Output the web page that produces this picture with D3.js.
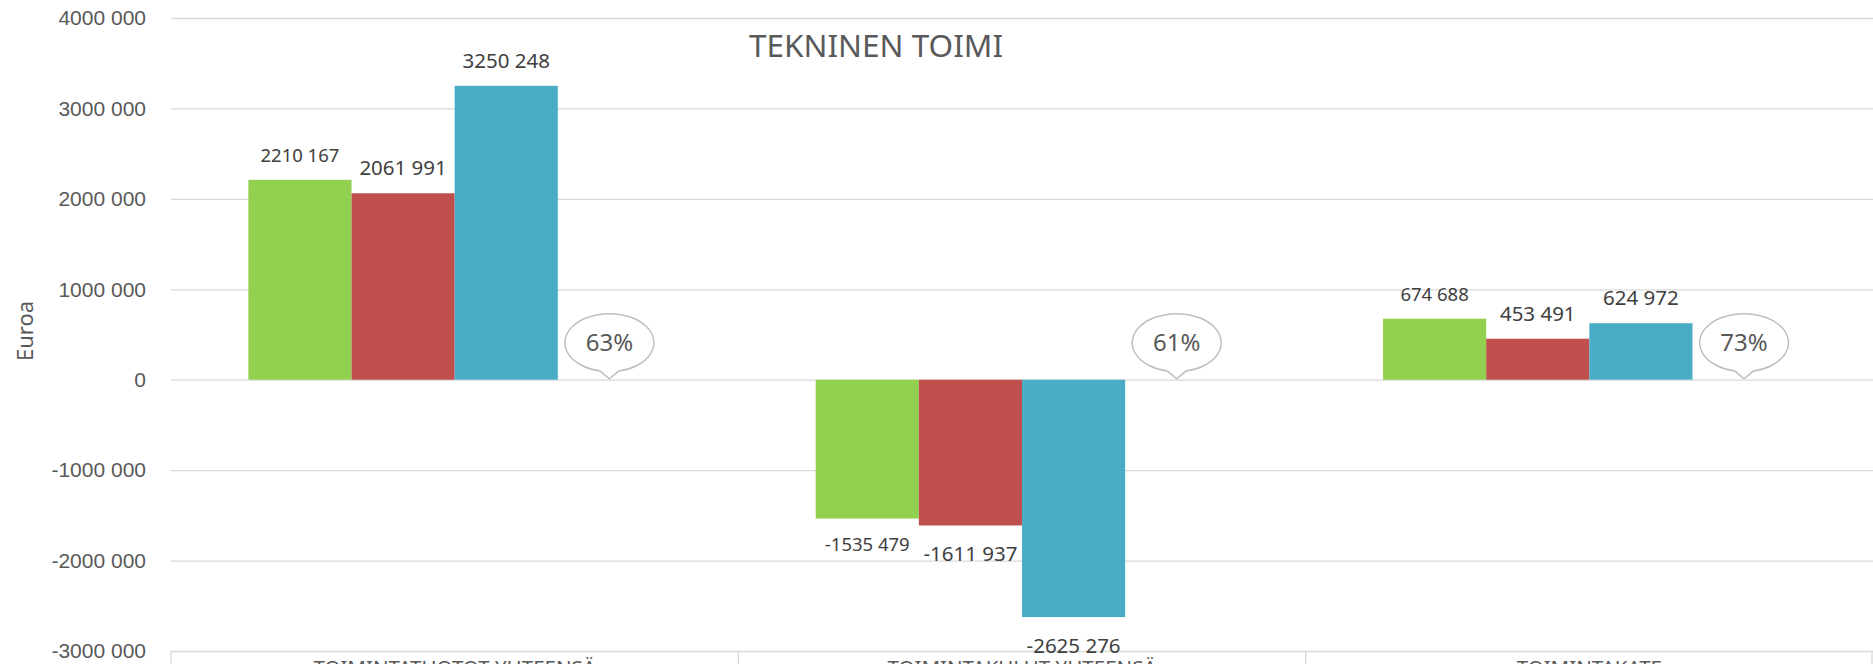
<!DOCTYPE html>
<html>
<head>
<meta charset="utf-8">
<script src="https://cdn.jsdelivr.net/npm/d3@7"></script>
<style>
  body { margin: 0; background: #fff; }
  svg { display: block; font-family: "Noto Sans", sans-serif; }
</style>
</head>
<body>
<div id="chart"></div>
<script>
var width = 1873;
var height = 664;

// chart data
var categories = ['TOIMINTATUOTOT YHTEENSÄ', 'TOIMINTAKULUT YHTEENSÄ', 'TOIMINTAKATE'];
var seriesKeys = ['sarja1', 'sarja2', 'sarja3', 'toteutuma'];
var sarja1 = [2210167, -1535479, 674688];
var sarja2 = [2061991, -1611937, 453491];
var sarja3 = [3250248, -2625276, 624972];
var percentLabels = ['63%', '61%', '73%'];
var yTicks = [-3000000, -2000000, -1000000, 0, 1000000, 2000000, 3000000, 4000000];

var colors = { sarja1: '#92D050', sarja2: '#C0504D', sarja3: '#4BACC6' };
var labelSize = { sarja1: 18.5, sarja2: 20.5, sarja3: 20.5 };

var plotLeft = 171, plotRight = 1873, plotTop = 18, plotBottom = 651;

// excel style: "4000 000", plain hyphen for minus
var fi = d3.formatLocale({ decimal: ',', thousands: ' ', grouping: [3, 99], currency: ['', ''], minus: '-' });
var fmt = fi.format(',d');

var svg = d3.select('#chart').append('svg')
    .attr('width', width)
    .attr('height', height);

var y = d3.scaleLinear()
    .domain([-3000000, 4000000])
    .range([plotBottom, plotTop]);

var x0 = d3.scaleBand()
    .domain(categories)
    .range([plotLeft, plotRight]);

// gap width 150% -> 0.75 bar on each side
var x1 = d3.scaleBand()
    .domain(seriesKeys)
    .range([0, x0.bandwidth()])
    .paddingInner(0)
    .paddingOuter(0.75);

// gridlines + y labels
var yAxis = svg.append('g')
    .attr('transform', 'translate(' + plotLeft + ',0)')
    .call(d3.axisLeft(y)
        .tickValues(yTicks)
        .tickSize(-(plotRight - plotLeft))
        .tickPadding(25)
        .tickFormat(fmt));
yAxis.select('.domain').remove();
yAxis.selectAll('line').attr('stroke', '#d9d9d9').attr('stroke-width', 1.3);
yAxis.selectAll('text')
    .attr('fill', '#595959')
    .style('font-size', '21px');

// category box lines below the axis
var edges = categories.map(function(c) { return x0(c); }).concat([plotRight - 1]);
svg.selectAll('.cat-tick')
    .data(edges)
    .enter().append('line')
    .attr('class', 'cat-tick')
    .attr('x1', function(d) { return d; })
    .attr('x2', function(d) { return d; })
    .attr('y1', y(-3000000))
    .attr('y2', height)
    .attr('stroke', '#d9d9d9')
    .attr('stroke-width', 1.3);

svg.selectAll('.cat-label')
    .data(categories)
    .enter().append('text')
    .attr('class', 'cat-label')
    .attr('x', function(d) { return x0(d) + x0.bandwidth() / 2; })
    .attr('y', 675)
    .attr('text-anchor', 'middle')
    .attr('fill', '#595959')
    .style('font-size', '20.5px')
    .text(function(d) { return d; });

// bars
var rows = categories.map(function(c, i) {
    return { cat: c, sarja1: sarja1[i], sarja2: sarja2[i], sarja3: sarja3[i], pct: percentLabels[i] };
});
var barKeys = ['sarja1', 'sarja2', 'sarja3'];

var groups = svg.selectAll('.group')
    .data(rows)
    .enter().append('g')
    .attr('class', 'group')
    .attr('transform', function(d) { return 'translate(' + x0(d.cat) + ',0)'; });

groups.selectAll('rect')
    .data(function(d) { return barKeys.map(function(k) { return { key: k, value: d[k] }; }); })
    .enter().append('rect')
    .attr('x', function(d) { return x1(d.key); })
    .attr('width', x1.bandwidth())
    .attr('y', function(d) { return y(Math.max(0, d.value)); })
    .attr('height', function(d) { return Math.abs(y(d.value) - y(0)); })
    .attr('fill', function(d) { return colors[d.key]; });

groups.selectAll('.val')
    .data(function(d) { return barKeys.map(function(k) { return { key: k, value: d[k] }; }); })
    .enter().append('text')
    .attr('class', 'val')
    .attr('x', function(d) { return x1(d.key) + x1.bandwidth() / 2; })
    .attr('y', function(d) {
        if (d.value >= 0) return y(d.value) - (d.key === 'sarja1' ? 17.5 : 18);
        return y(d.value) + (d.key === 'sarja1' ? 32 : 36);
    })
    .attr('text-anchor', 'middle')
    .attr('fill', '#404040')
    .style('font-size', function(d) { return labelSize[d.key] + 'px'; })
    .text(function(d) { return fmt(d.value); });

// callout bubbles on the empty 4th slot
function bubblePath(cx, cy, rx, ry, tipY) {
    var a1 = 102 * Math.PI / 180, a2 = 78 * Math.PI / 180;
    var sx = cx + rx * Math.cos(a1), sy = cy + ry * Math.sin(a1);
    var ex = cx + rx * Math.cos(a2), ey = cy + ry * Math.sin(a2);
    return 'M' + sx + ',' + sy +
        ' A' + rx + ',' + ry + ' 0 1 1 ' + ex + ',' + ey +
        ' L' + cx + ',' + tipY + ' Z';
}

groups.each(function(d) {
    var g = d3.select(this);
    var cx = x1('toteutuma') + x1.bandwidth() / 2;
    var cy = y(0) - 37;
    g.append('path')
        .attr('d', bubblePath(cx, cy, 44.5, 29, y(0) - 1))
        .attr('fill', '#fff')
        .attr('stroke', '#bfbfbf')
        .attr('stroke-width', 1.5);
    g.append('text')
        .attr('x', cx)
        .attr('y', cy + 8.5)
        .attr('text-anchor', 'middle')
        .attr('fill', '#595959')
        .style('font-size', '24px')
        .text(d.pct);
});

// y axis title
svg.append('text')
    .attr('transform', 'translate(33,331) rotate(-90)')
    .attr('text-anchor', 'middle')
    .attr('fill', '#595959')
    .style('font-size', '22px')
    .text('Euroa');

// chart title
svg.append('text')
    .attr('x', 876)
    .attr('y', 57)
    .attr('text-anchor', 'middle')
    .attr('fill', '#595959')
    .style('font-size', '31.5px')
    .text('TEKNINEN TOIMI');
</script>
</body>
</html>
